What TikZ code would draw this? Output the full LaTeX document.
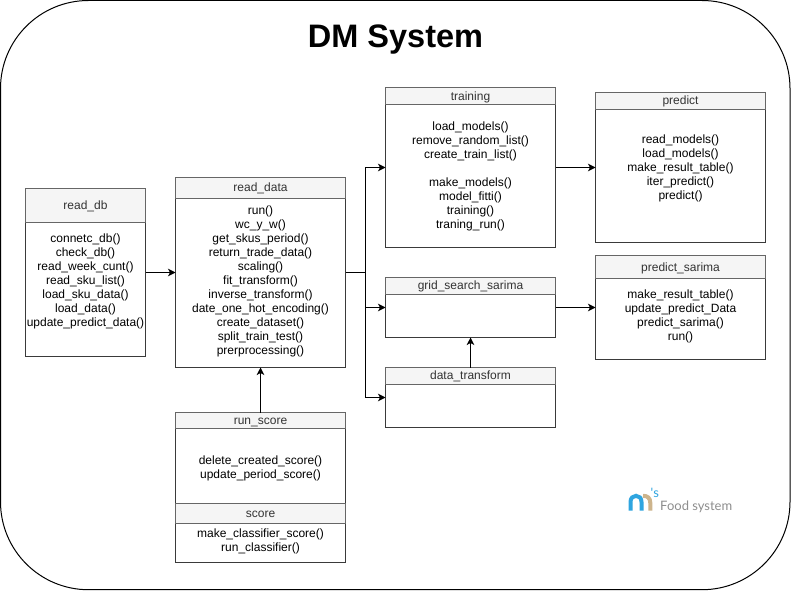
\documentclass[tikz,border=0pt]{standalone}
\usepackage{fontspec}
\setmainfont{Liberation Sans}
\newfontfamily\logofont{Lato}
\usetikzlibrary{arrows.meta}
\definecolor{hdrfill}{HTML}{F5F5F5}
\definecolor{hdrline}{HTML}{666666}
\definecolor{hdrtext}{HTML}{333333}
\definecolor{boxline}{HTML}{3A3A3A}
\definecolor{logoblue}{HTML}{2FA5E0}
\definecolor{logotan}{HTML}{CDB48C}
\definecolor{logogray}{HTML}{8E8E8E}
\tikzset{
  boxbody/.style={draw=boxline,fill=white,line width=1pt,inner sep=0pt,outer sep=0pt,anchor=north west},
  boxhead/.style={draw=hdrline,fill=hdrfill,line width=1pt,inner sep=0pt,outer sep=0pt,anchor=north west,
    text=hdrtext,font=\fontsize{12}{14}\selectfont},
  boxtext/.style={inner sep=0pt,align=center,text=black,font=\fontsize{12}{14}\selectfont},
  flow/.style={draw=black,line width=1pt,-{Stealth[length=7.5pt,width=7.5pt,inset=2pt]}},
  plainflow/.style={draw=black,line width=1pt},
}
% name, x1, y1, x2, y2, header bottom, title, text centre y, lines
\newcommand{\umlbox}[9]{%
  \node[boxbody,minimum width={(#4-#2)*1pt},minimum height={(#5-#3)*1pt}] (#1) at (#2,#3) {};
  \node[boxhead,minimum width={(#4-#2)*1pt},minimum height={(#6-#3)*1pt}] (#1h) at (#2,#3) {\raisebox{-4pt}[0pt][0pt]{#7}};
  \node[boxtext] (#1t) at ({(#2+#4)/2},#8) {#9};
}
\begin{document}
\begin{tikzpicture}[x=1pt,y=-1pt]
\useasboundingbox (0,0) rectangle (791,591);
\fill[white] (0,0) rectangle (791,591);
\draw[black,line width=1pt,rounded corners=88pt] (0.5,0.5) rectangle (790,589.7);
\node[inner sep=0pt,anchor=base,font=\fontsize{32.5}{36}\selectfont\bfseries] (title) at (395.5,47.7) {DM System};

\umlbox{readdb}{25.5}{188.5}{145.5}{356.5}{222.5}{read\_db}{281}{%
  connetc\_db()\\check\_db()\\read\_week\_cunt()\\read\_sku\_list()\\load\_sku\_data()\\load\_data()\\update\_predict\_data()}
\umlbox{readdata}{175.5}{177.5}{345.5}{367.5}{198}{read\_data}{281}{%
  run()\\wc\_y\_w()\\get\_skus\_period()\\return\_trade\_data()\\scaling()\\fit\_transform()\\inverse\_transform()\\date\_one\_hot\_encoding()\\create\_dataset()\\split\_train\_test()\\prerprocessing()}
\umlbox{training}{385.5}{87.5}{555.5}{247.5}{104.5}{training}{176}{%
  load\_models()\\remove\_random\_list()\\create\_train\_list()\\[14pt]make\_models()\\model\_fitti()\\training()\\traning\_run()}
\umlbox{predict}{595.5}{92.5}{765.5}{242.5}{109}{predict}{168.5}{%
  read\_models()\\load\_models()\\make\_result\_table()\\iter\_predict()\\predict()}
\umlbox{grid}{385.5}{277.5}{555.5}{337.5}{294}{grid\_search\_sarima}{316}{}
\umlbox{transform}{385.5}{367.5}{555.5}{427.5}{384}{data\_transform}{406}{}
\umlbox{sarima}{595.5}{255.5}{765.5}{359.5}{278.5}{predict\_sarima}{316}{%
  make\_result\_table()\\update\_predict\_Data\\predict\_sarima()\\run()}
\umlbox{runscore}{175.5}{412.5}{345.5}{503.5}{428.5}{run\_score}{468}{%
  delete\_created\_score()\\update\_period\_score()}
\umlbox{score}{175.5}{503.5}{345.5}{562.5}{523.5}{score}{541}{%
  make\_classifier\_score()\\run\_classifier()}

\coordinate (split) at ([xshift=20pt]readdata.east);
\draw[flow] (readdb.east) -- (readdata.west);
\draw[plainflow] (readdata.east) -- (split);
\draw[flow] (split) |- (training.west);
\draw[flow] (split) |- (grid.west);
\draw[flow] (split) |- (transform.west);
\draw[flow] (training.east) -- (predict.west);
\draw[flow] (grid.east) -- (sarima.west);
\draw[flow] (transform.north) -- (grid.south);
\draw[flow] (runscore.north) -- (readdata.south);

% logo
\draw[logoblue,line width=4pt,line cap=butt] (630.5,510.7) -- (630.5,502) .. controls (630.5,498) and (633,495.8) .. (636,495.8) .. controls (639,495.8) and (641.5,498) .. (641.5,502) -- (641.5,510.7);
\draw[logotan,line width=4pt,line cap=butt] (643,495.8) .. controls (647.5,495.8) and (650.3,498) .. (650.3,503) -- (650.3,510.7);
\node[inner sep=0pt,anchor=base west,text=logoblue,font=\logofont\fontsize{13}{13}\selectfont] (logos) at (650.5,497.5) {'s};
\node[inner sep=0pt,anchor=base west,text=logogray,font=\logofont\fontsize{13}{14}\selectfont] (logotext) at (660,510.7) {Food system};
\end{tikzpicture}
\end{document}
